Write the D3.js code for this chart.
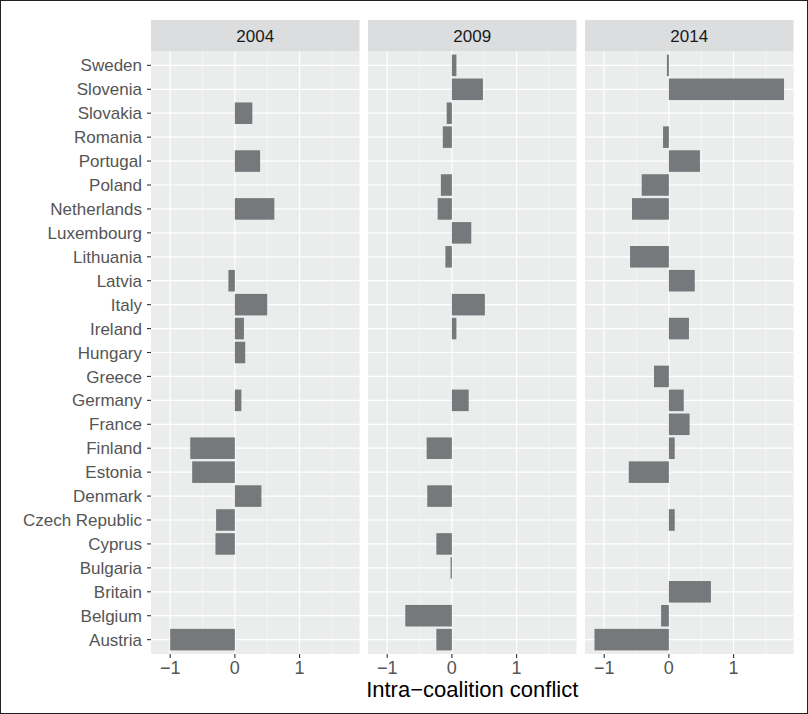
<!DOCTYPE html>
<html lang="en">
  <head>
    <meta charset="utf-8">
    <title>Intra-coalition conflict</title>
    <script type="text/javascript" src="https://cdn.jsdelivr.net/npm/d3@7"></script>
    <style>
      body { margin: 0; background: #fff; }
      text { font-family: "Liberation Sans", Arial, sans-serif; }
    </style>
  </head>
  <body>
    <script type="text/javascript">

      var w = 808;
      var h = 714;

      // countries, top to bottom as drawn
      var countries = ["Sweden", "Slovenia", "Slovakia", "Romania", "Portugal", "Poland",
        "Netherlands", "Luxembourg", "Lithuania", "Latvia", "Italy", "Ireland", "Hungary",
        "Greece", "Germany", "France", "Finland", "Estonia", "Denmark", "Czech Republic",
        "Cyprus", "Bulgaria", "Britain", "Belgium", "Austria"];

      var years = ["2004", "2009", "2014"];

      // null = no bar for that country in that year
      var conflict2004 = [null, null, 0.27, null, 0.39, null,
        0.61, null, null, -0.10, 0.50, 0.14, 0.16,
        null, 0.10, null, -0.69, -0.66, 0.41, -0.29,
        -0.30, null, null, null, -1.00];

      var conflict2009 = [0.07, 0.48, -0.08, -0.14, null, -0.17,
        -0.22, 0.30, -0.10, null, 0.51, 0.07, null,
        null, 0.26, null, -0.39, null, -0.38, null,
        -0.24, -0.02, null, -0.72, -0.24];

      var conflict2014 = [-0.03, 1.78, null, -0.09, 0.48, -0.42,
        -0.57, null, -0.60, 0.40, null, 0.31, null,
        -0.23, 0.23, 0.32, 0.09, -0.62, null, 0.09,
        null, null, 0.65, -0.12, -1.15];

      var xTicks = [-1, 0, 1];
      var xMinor = [-1.5, -0.5, 0.5, 1.5];

      var series = [conflict2004, conflict2009, conflict2014];

      // layout
      var panelLeft = 151;
      var panelW = 208.5;
      var gap = 8.5;
      var stripTop = 20;
      var stripH = 31;
      var panelTop = stripTop + stripH;
      var panelBottom = 654;

      var svg = d3.select("body")
                  .append("svg")
                  .attr("width", w)
                  .attr("height", h);

      svg.append("rect")
         .attr("x", 0.5).attr("y", 0.5)
         .attr("width", w - 1).attr("height", h - 1)
         .attr("fill", "#fff")
         .attr("stroke", "#222")
         .attr("stroke-width", 1);

      // shared x domain, expanded 5% like ggplot
      var allVals = [];
      series.forEach(function(s) {
        s.forEach(function(v) { if (v !== null) allVals.push(v); });
      });
      var ext = d3.extent(allVals);
      var pad = (ext[1] - ext[0]) * 0.05;

      // discrete axis, 0.6 step padding at each end
      var yScale = d3.scalePoint()
                     .domain(countries)
                     .range([panelTop, panelBottom])
                     .padding(0.6);
      var step = yScale.step();

      years.forEach(function(yr, k) {
        var x0 = panelLeft + k * (panelW + gap);
        var xScale = d3.scaleLinear()
                       .domain([ext[0] - pad, ext[1] + pad])
                       .range([x0, x0 + panelW]);

        var g = svg.append("g");

        // strip
        g.append("rect")
         .attr("x", x0).attr("y", stripTop)
         .attr("width", panelW).attr("height", stripH)
         .attr("fill", "#dcdddf");
        g.append("text")
         .attr("x", x0 + panelW / 2)
         .attr("y", stripTop + stripH / 2)
         .attr("dy", "0.36em")
         .attr("text-anchor", "middle")
         .attr("font-size", "17px")
         .attr("fill", "#1a1a1a")
         .text(yr);

        // panel background
        g.append("rect")
         .attr("x", x0).attr("y", panelTop)
         .attr("width", panelW).attr("height", panelBottom - panelTop)
         .attr("fill", "#ebecec");

        // minor grid
        g.selectAll("line.minor")
         .data(xMinor.filter(function(v) { return v > xScale.domain()[0] && v < xScale.domain()[1]; }))
         .enter()
         .append("line")
         .attr("x1", function(d) { return xScale(d); })
         .attr("x2", function(d) { return xScale(d); })
         .attr("y1", panelTop).attr("y2", panelBottom)
         .attr("stroke", "#fafafa")
         .attr("stroke-width", 0.6);

        // major grid x
        g.selectAll("line.majx")
         .data(xTicks)
         .enter()
         .append("line")
         .attr("x1", function(d) { return xScale(d); })
         .attr("x2", function(d) { return xScale(d); })
         .attr("y1", panelTop).attr("y2", panelBottom)
         .attr("stroke", "#fff")
         .attr("stroke-width", 1.2);

        // major grid y
        g.selectAll("line.majy")
         .data(countries)
         .enter()
         .append("line")
         .attr("x1", x0).attr("x2", x0 + panelW)
         .attr("y1", function(d) { return yScale(d); })
         .attr("y2", function(d) { return yScale(d); })
         .attr("stroke", "#fff")
         .attr("stroke-width", 1.2);

        // bars
        var bars = series[k].map(function(v, i) { return { c: countries[i], v: v }; })
                            .filter(function(d) { return d.v !== null; });
        g.selectAll("rect.bar")
         .data(bars)
         .enter()
         .append("rect")
         .attr("x", function(d) { return Math.min(xScale(0), xScale(d.v)); })
         .attr("width", function(d) { return Math.max(1, Math.abs(xScale(d.v) - xScale(0))); })
         .attr("y", function(d) { return yScale(d.c) - 0.45 * step; })
         .attr("height", 0.9 * step)
         .attr("fill", "#77787b");

        // x axis ticks and labels
        g.selectAll("line.xt")
         .data(xTicks)
         .enter()
         .append("line")
         .attr("x1", function(d) { return xScale(d); })
         .attr("x2", function(d) { return xScale(d); })
         .attr("y1", panelBottom).attr("y2", panelBottom + 4)
         .attr("stroke", "#333")
         .attr("stroke-width", 1.1);
        g.selectAll("text.xl")
         .data(xTicks)
         .enter()
         .append("text")
         .attr("x", function(d) { return xScale(d); })
         .attr("y", panelBottom + 14)
         .attr("dy", "0.36em")
         .attr("text-anchor", "middle")
         .attr("font-size", "18px")
         .attr("fill", "#555")
         .text(function(d) { return d < 0 ? "\u2212" + Math.abs(d) : d; });
      });

      // y axis
      svg.selectAll("line.yt")
         .data(countries)
         .enter()
         .append("line")
         .attr("x1", panelLeft - 4).attr("x2", panelLeft)
         .attr("y1", function(d) { return yScale(d); })
         .attr("y2", function(d) { return yScale(d); })
         .attr("stroke", "#333")
         .attr("stroke-width", 1.1);
      svg.selectAll("text.yl")
         .data(countries)
         .enter()
         .append("text")
         .attr("x", panelLeft - 9)
         .attr("y", function(d) { return yScale(d); })
         .attr("dy", "0.36em")
         .attr("text-anchor", "end")
         .attr("font-size", "17px")
         .attr("fill", "#555")
         .text(function(d) { return d; });

      // axis title
      var plotMid = panelLeft + (3 * panelW + 2 * gap) / 2;
      svg.append("text")
         .attr("x", plotMid)
         .attr("y", 697)
         .attr("text-anchor", "middle")
         .attr("font-size", "22px")
         .attr("fill", "#000")
         .text("Intra\u2212coalition conflict");

    </script>
  </body>
</html>
